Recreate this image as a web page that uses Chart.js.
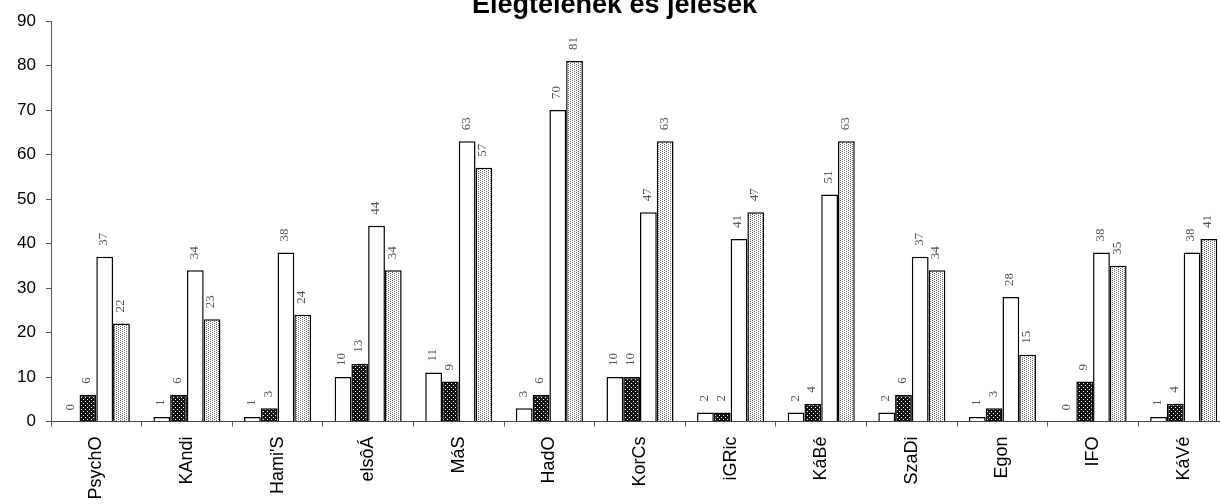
<!DOCTYPE html>
<html>
<head>
<meta charset="utf-8">
<script src="https://cdn.jsdelivr.net/npm/chart.js@4/dist/chart.umd.min.js"></script>
<style>
  html, body { margin: 0; padding: 0; background: #fff; overflow: hidden; width: 1220px; height: 504px; }
  #wrap { position: absolute; left: 0; top: -8px; width: 1229px; height: 512px; }
</style>
</head>
<body>
<div id="wrap"><canvas id="c" width="1229" height="512"></canvas></div>
<script>
const titleText = 'Elégtelenek és jelesek';
const categories = ['PsychO', 'KAndi', "Hami'S", 'elsôÁ', 'MáS', 'HadO', 'KorCs', 'iGRic', 'KáBé', 'SzaDi', 'Egon', 'IFO', 'KáVé'];
const seriesNames = ['Elégtelen (1)', 'Elégtelen (2)', 'Jeles (1)', 'Jeles (2)'];
const elegtelen1 = [0, 1, 1, 10, 11, 3, 10, 2, 2, 2, 1, 0, 1];
const elegtelen2 = [6, 6, 3, 13, 9, 6, 10, 2, 4, 6, 3, 9, 4];
const jeles1 = [37, 34, 38, 44, 63, 70, 47, 41, 51, 37, 28, 38, 38];
const jeles2 = [22, 23, 24, 34, 57, 81, 63, 47, 63, 34, 15, 35, 41];
const yTicks = [0, 10, 20, 30, 40, 50, 60, 70, 80, 90];

function makePattern(bg, dot, coords, size) {
  const p = document.createElement('canvas');
  p.width = size; p.height = size;
  const g = p.getContext('2d');
  g.fillStyle = bg; g.fillRect(0, 0, size, size);
  g.fillStyle = dot;
  coords.forEach(([x, y]) => g.fillRect(x, y, 1, 1));
  return document.getElementById('c').getContext('2d').createPattern(p, 'repeat');
}
const darkFill = makePattern('#111', '#fff', [[1, 1], [3, 3]], 4);
const lightFill = makePattern('#fff', '#666', [[0, 0], [2, 1], [0, 2], [2, 3]], 4);

const valueLabels = {
  id: 'valueLabels',
  afterDatasetsDraw(chart) {
    const ctx = chart.ctx;
    ctx.save();
    ctx.font = '13px "Liberation Serif", "DejaVu Serif", serif';
    ctx.fillStyle = '#555';
    ctx.textAlign = 'left';
    ctx.textBaseline = 'middle';
    chart.data.datasets.forEach((ds, i) => {
      const meta = chart.getDatasetMeta(i);
      meta.data.forEach((bar, j) => {
        ctx.save();
        ctx.translate(bar.x - 1, bar.y - 11);
        ctx.rotate(-Math.PI / 2);
        ctx.fillText(String(ds.data[j]), 0, 0);
        ctx.restore();
      });
    });
    ctx.restore();
  }
};

const common = { borderColor: '#000', borderWidth: 1.5, barPercentage: 1.0, categoryPercentage: 0.74 };

new Chart(document.getElementById('c'), {
  type: 'bar',
  data: {
    labels: categories,
    datasets: [
      Object.assign({ label: seriesNames[0], data: elegtelen1, backgroundColor: '#fff' }, common),
      Object.assign({ label: seriesNames[1], data: elegtelen2, backgroundColor: darkFill }, common),
      Object.assign({ label: seriesNames[2], data: jeles1, backgroundColor: '#fff' }, common),
      Object.assign({ label: seriesNames[3], data: jeles2, backgroundColor: lightFill }, common)
    ]
  },
  options: {
    responsive: false,
    animation: false,
    devicePixelRatio: 1,
    layout: { padding: { left: 0, right: 0, top: 0, bottom: 0 } },
    plugins: {
      legend: { display: false },
      tooltip: { enabled: false },
      title: {
        display: true,
        text: titleText,
        color: '#000',
        font: { family: '"Liberation Sans", Arial, sans-serif', size: 27, weight: 'bold', lineHeight: 1 },
        padding: { top: 0, bottom: 2 }
      }
    },
    scales: {
      x: {
        offset: true,
        grid: { display: true, drawOnChartArea: false, offset: true, tickLength: 5, color: '#555', lineWidth: 1 },
        border: { display: true, color: '#444', width: 1, dash: [5, 2] },
        ticks: {
          color: '#000',
          font: { family: '"Liberation Sans", Arial, sans-serif', size: 18 },
          minRotation: 90, maxRotation: 90, padding: 10, autoSkip: false
        },
        afterFit(scale) { scale.height = 82.5; }
      },
      y: {
        min: 0, max: 90,
        afterBuildTicks(scale) { scale.ticks = yTicks.map(v => ({ value: v })); },
        grid: { display: true, drawOnChartArea: false, tickLength: 5, color: '#555', lineWidth: 1 },
        border: { display: true, color: '#555', width: 1, dash: [5, 2] },
        ticks: {
          color: '#000',
          font: { family: '"Liberation Sans", Arial, sans-serif', size: 17 },
          padding: 10
        },
        afterFit(scale) { scale.width = 51; }
      }
    }
  },
  plugins: [valueLabels]
});
</script>
</body>
</html>
